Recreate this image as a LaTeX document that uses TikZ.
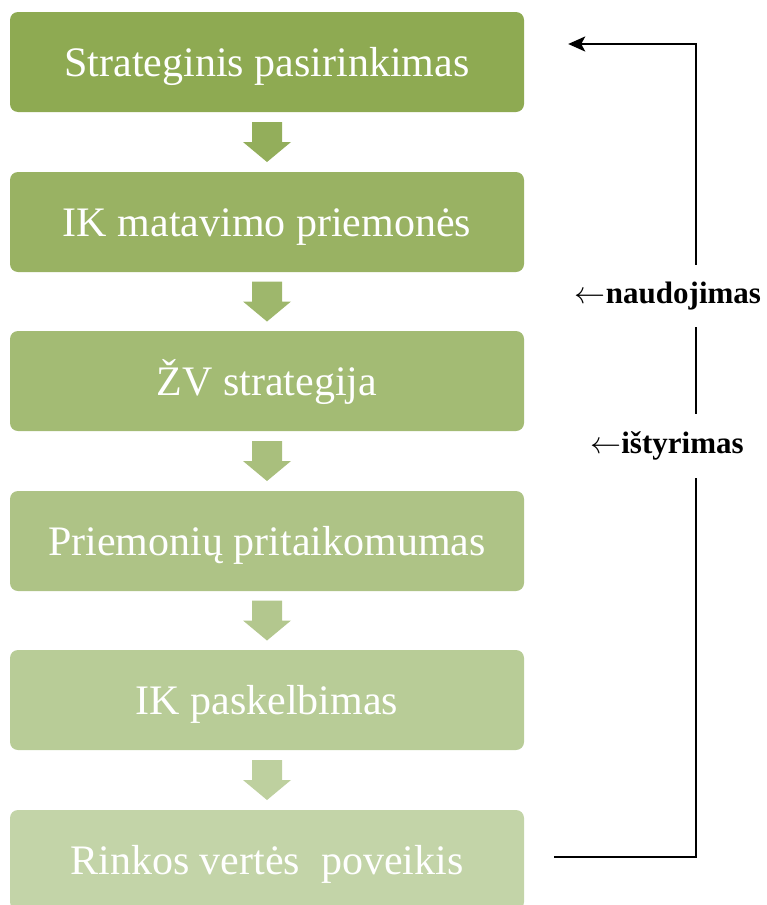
\RequirePackage{fix-cm}
\documentclass[tikz,border=0pt]{standalone}
\usepackage{fontspec}
\setmainfont{Liberation Serif}
\usetikzlibrary{calc,arrows.meta}

% green shades from the top step to the bottom step
\definecolor{gtop}{RGB}{142,170,82}
\definecolor{gbot}{RGB}{195,212,168}
\colorlet{g1}{gbot!0!gtop}
\colorlet{g2}{gbot!20!gtop}
\colorlet{g3}{gbot!40!gtop}
\colorlet{g4}{gbot!60!gtop}
\colorlet{g5}{gbot!80!gtop}
\colorlet{g6}{gbot!100!gtop}
\colorlet{a1}{gbot!10!gtop}
\colorlet{a2}{gbot!30!gtop}
\colorlet{a3}{gbot!50!gtop}
\colorlet{a4}{gbot!70!gtop}
\colorlet{a5}{gbot!90!gtop}

\tikzset{
  stepbox/.style={rounded corners=8pt, minimum width=514pt, minimum height=100pt,
    inner sep=0pt, text=white, font=\fontsize{42}{44}\selectfont,
    text height=28pt, text depth=0pt},
  sidelabel/.style={fill=white, inner sep=0pt, font=\bfseries\fontsize{31}{33}\selectfont},
  darr/.pic={\fill[#1] (-15,-20) -- (15,-20) -- (15,0) -- (24,0) -- (0,20) -- (-24,0) -- (-15,0) -- cycle;},
}
\newcommand{\larr}{$\leftarrow$}

\begin{document}
\begin{tikzpicture}[x=1pt,y=-1pt]
\useasboundingbox (0,0) rectangle (767,905);
\clip (0,0) rectangle (767,905);

% the six steps
\node[stepbox, fill=g1] (b1) at (267,62)  {Strateginis pasirinkimas};
\node[stepbox, fill=g2] (b2) at (267,222) {IK matavimo priemonės};
\node[stepbox, fill=g3] (b3) at (267,381) {ŽV strategija};
\node[stepbox, fill=g4] (b4) at (267,541) {Priemonių pritaikomumas};
\node[stepbox, fill=g5] (b5) at (267,700) {IK paskelbimas};
\node[stepbox, fill=g6] (b6) at (267,860) {Rinkos vertės\ \ poveikis};

% block arrows between consecutive steps
\foreach \i/\j in {1/2,2/3,3/4,4/5,5/6}{
  \coordinate (m\i) at ($(b\i.south)!0.5!(b\j.north)$);
  \pic at (m\i) {darr=a\i};
}

% feedback loop on the right
\coordinate (loopB) at (696,857);
\coordinate (loopT) at (696,44);
\draw[line width=2pt, -{Stealth[length=17pt,width=15pt,inset=4pt]}]
  ($(b6.east)+(30,-3)$) -- (loopB) -- (loopT) -- ($(b1.east)+(44,-18)$);

\node[sidelabel, minimum height=62pt] (use) at (668,296) {\larr naudojimas};
\node[sidelabel, minimum height=64pt] (res) at (667,446) {\larr ištyrimas};
\end{tikzpicture}
\end{document}
